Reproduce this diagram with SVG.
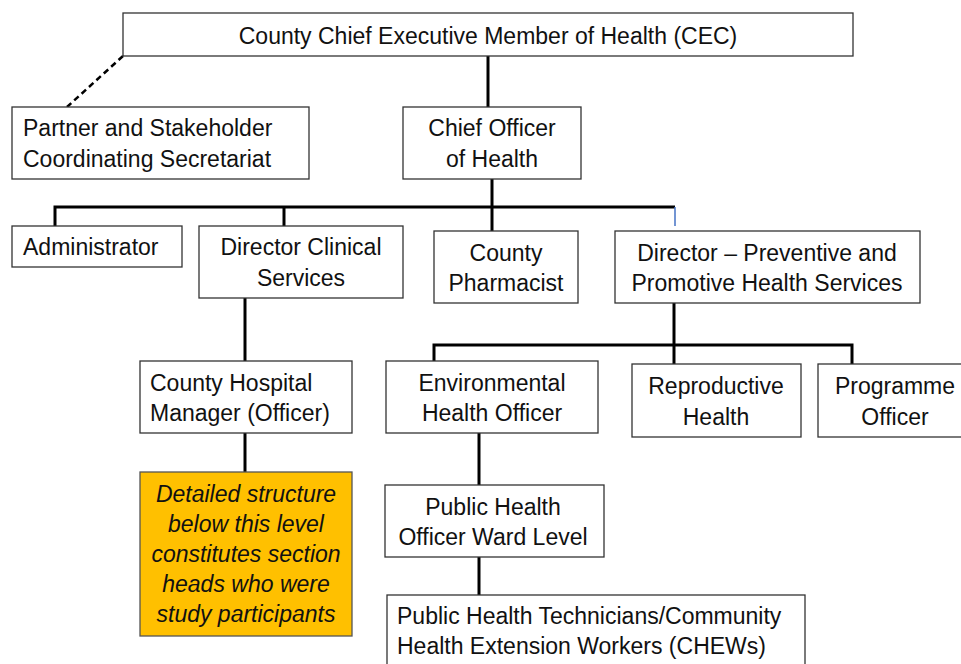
<svg xmlns="http://www.w3.org/2000/svg" width="961" height="664" viewBox="0 0 961 664">
<style>
.box{fill:#fff;stroke:#333;stroke-width:1.3}
.t{font-family:"Liberation Sans",Arial,sans-serif;font-size:23px;fill:#111}
.c{text-anchor:middle}
.ln{stroke:#000;stroke-width:3;fill:none}
.it{font-style:italic}
</style>
<rect width="961" height="664" fill="#fff"/>
<g id="connectors">
<line class="ln" x1="123" y1="56" x2="67" y2="107" stroke-dasharray="6,4" style="stroke-width:2.5"/>
<line class="ln" x1="488" y1="56" x2="488" y2="107"/>
<line class="ln" x1="492" y1="179" x2="492" y2="231"/>
<polyline class="ln" points="55,226 55,207 675,207"/>
<line class="ln" x1="284" y1="207" x2="284" y2="226"/>
<line x1="675" y1="207" x2="675" y2="226" stroke="#4472C4" stroke-width="1.5"/>
<line class="ln" x1="245" y1="298" x2="245" y2="361"/>
<line class="ln" x1="245" y1="433" x2="245" y2="472"/>
<line class="ln" x1="674" y1="303" x2="674" y2="364"/>
<polyline class="ln" points="434,361 434,345 852,345 852,364"/>
<line class="ln" x1="479" y1="433" x2="479" y2="485"/>
<line class="ln" x1="479" y1="557" x2="479" y2="595"/>
</g>
<g id="cec"><rect class="box" x="123" y="13" width="730" height="43"/><text class="t c" x="488" y="44">County Chief Executive Member of Health (CEC)</text></g>
<g id="partner"><rect class="box" x="12" y="107" width="297" height="72"/><text class="t" x="23" y="136">Partner and Stakeholder</text><text class="t" x="23" y="167">Coordinating Secretariat</text></g>
<g id="chief"><rect class="box" x="403" y="107" width="178" height="72"/><text class="t c" x="492" y="136">Chief Officer</text><text class="t c" x="492" y="167">of Health</text></g>
<g id="admin"><rect class="box" x="12" y="226" width="170" height="41"/><text class="t" x="23" y="255">Administrator</text></g>
<g id="dcs"><rect class="box" x="199" y="226" width="204" height="72"/><text class="t c" x="301" y="255">Director Clinical</text><text class="t c" x="301" y="286">Services</text></g>
<g id="pharm"><rect class="box" x="434" y="231" width="144" height="72"/><text class="t c" x="506" y="261">County</text><text class="t c" x="506" y="291">Pharmacist</text></g>
<g id="dpphs"><rect class="box" x="615" y="231" width="305" height="72"/><text class="t c" x="767" y="261">Director – Preventive and</text><text class="t c" x="767" y="291">Promotive Health Services</text></g>
<g id="chm"><rect class="box" x="140" y="361" width="212" height="72"/><text class="t" x="150" y="391">County Hospital</text><text class="t" x="150" y="421">Manager (Officer)</text></g>
<g id="note"><rect x="140" y="472" width="212" height="164" fill="#FFC000" stroke="#555" stroke-width="1.3"/>
<text class="t c it" x="246" y="502">Detailed structure</text><text class="t c it" x="246" y="532">below this level</text><text class="t c it" x="246" y="562">constitutes section</text><text class="t c it" x="246" y="592">heads who were</text><text class="t c it" x="246" y="622">study participants</text></g>
<g id="eho"><rect class="box" x="386" y="361" width="212" height="72"/><text class="t c" x="492" y="391">Environmental</text><text class="t c" x="492" y="421">Health Officer</text></g>
<g id="repro"><rect class="box" x="632" y="364" width="169" height="73"/><text class="t c" x="716" y="394">Reproductive</text><text class="t c" x="716" y="425">Health</text></g>
<g id="prog"><rect class="box" x="818" y="364" width="150" height="73"/><text class="t c" x="895" y="394">Programme</text><text class="t c" x="895" y="425">Officer</text></g>
<g id="pho"><rect class="box" x="385" y="485" width="219" height="72"/><text class="t c" x="493" y="515">Public Health</text><text class="t c" x="493" y="545">Officer Ward Level</text></g>
<g id="pht"><rect class="box" x="387" y="595" width="418" height="75"/><text class="t" x="397" y="624">Public Health Technicians/Community</text><text class="t" x="397" y="654">Health Extension Workers (CHEWs)</text></g>
</svg>
